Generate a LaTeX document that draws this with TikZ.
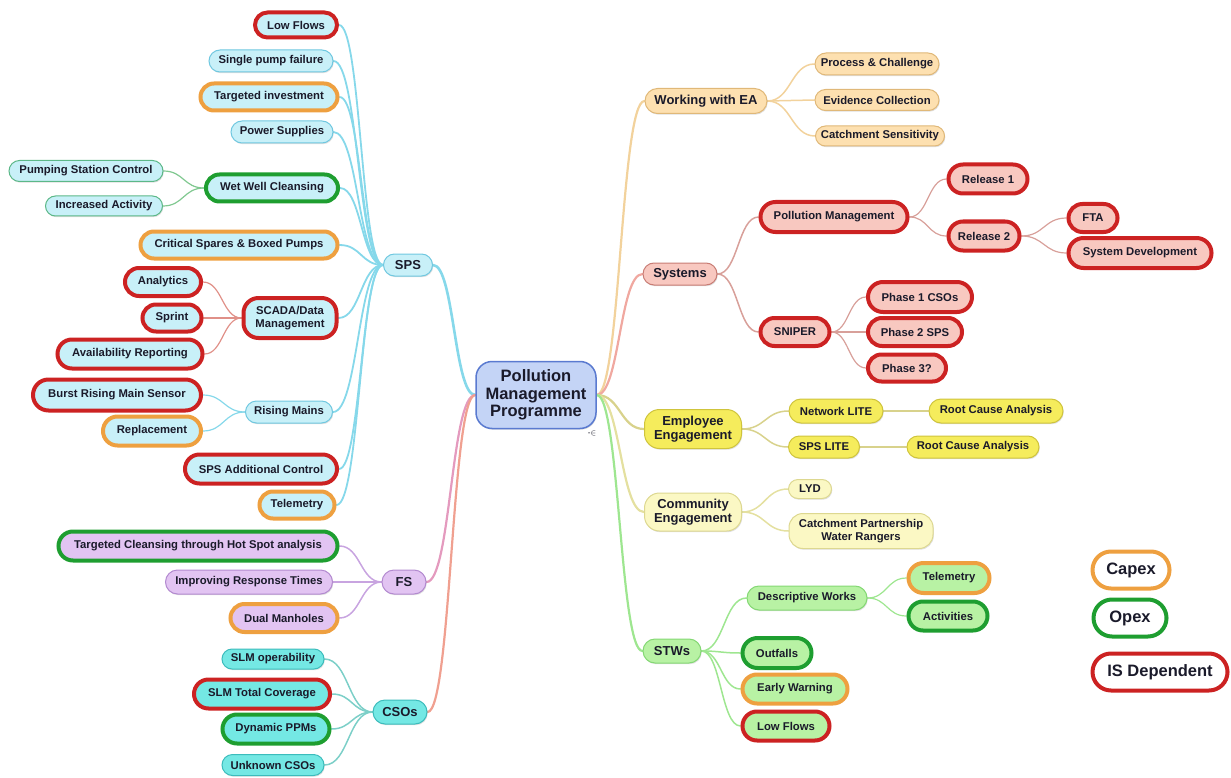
\documentclass[tikz,border=0pt]{standalone}
\usepackage{fontspec}
\setmainfont{Liberation Sans}
\usetikzlibrary{calc,shadows,backgrounds,shapes.misc}
\definecolor{txt}{HTML}{1A1A2A}
\definecolor{tagred}{HTML}{CC2222}
\definecolor{tagor}{HTML}{EEA040}
\definecolor{taggr}{HTML}{1E9E30}
\definecolor{rootfill}{HTML}{C4D4F6}
\definecolor{rootbd}{HTML}{5A7AD0}
\definecolor{cyfill}{HTML}{C8F0F8}
\definecolor{cybd}{HTML}{70C8E0}
\definecolor{gbd}{HTML}{5CB888}
\definecolor{pufill}{HTML}{E2C4F2}
\definecolor{pubd}{HTML}{B38AD0}
\definecolor{tqfill}{HTML}{74E8E4}
\definecolor{tqbd}{HTML}{3CBCBC}
\definecolor{orfill}{HTML}{FDE0B0}
\definecolor{orbd}{HTML}{E0B878}
\definecolor{safill}{HTML}{F8C8C0}
\definecolor{sabd}{HTML}{C87C74}
\definecolor{yefill}{HTML}{F5EC5C}
\definecolor{yebd}{HTML}{CFC43C}
\definecolor{lyfill}{HTML}{FBF8C4}
\definecolor{lybd}{HTML}{DDD890}
\definecolor{grfill}{HTML}{B8F2A4}
\definecolor{grbd}{HTML}{84D874}
\definecolor{cyE}{HTML}{86D8EA}
\definecolor{gwE}{HTML}{80C890}
\definecolor{rdE}{HTML}{E09088}
\definecolor{puE}{HTML}{C8A4E0}
\definecolor{tqE}{HTML}{7CCFC8}
\definecolor{pkE}{HTML}{E49ABE}
\definecolor{slE}{HTML}{F0A090}
\definecolor{orE}{HTML}{F2D29C}
\definecolor{syE}{HTML}{D8A09A}
\definecolor{ryE}{HTML}{F0A8A0}
\definecolor{yeE}{HTML}{D8D28C}
\definecolor{lyE}{HTML}{E4E0A0}
\definecolor{grE}{HTML}{9EE690}
\tikzset{
  nd/.style={rounded rectangle, align=center, inner sep=2pt, text=txt,
    font=\fontsize{11.3}{12.8}\selectfont\bfseries,
    drop shadow={shadow xshift=0.8pt,shadow yshift=-1.2pt,opacity=0.25}},
  box/.style={rectangle, rounded corners=#1},
  mw/.style={minimum width={#1+6pt}},
  lone/.style={font=\fontsize{13}{14}\selectfont\bfseries},
  cy/.style={nd, fill=cyfill, draw=cybd, line width=1pt},
  cyg/.style={nd, fill=cyfill, draw=gbd, line width=1pt},
  pu/.style={nd, fill=pufill, draw=pubd, line width=1pt},
  tq/.style={nd, fill=tqfill, draw=tqbd, line width=1pt},
  orn/.style={nd, fill=orfill, draw=orbd, line width=1pt},
  sa/.style={nd, fill=safill, draw=sabd, line width=1pt},
  ye/.style={nd, fill=yefill, draw=yebd, line width=1pt},
  ly/.style={nd, fill=lyfill, draw=lybd, line width=1pt},
  gr/.style={nd, fill=grfill, draw=grbd, line width=1pt},
  tR/.style={draw=tagred, line width=4pt},
  tO/.style={draw=tagor, line width=4pt},
  tG/.style={draw=taggr, line width=4pt},
  legend/.style={nd, fill=white, line width=4pt,
    font=\fontsize{16.5}{18}\selectfont\bfseries},
  ed/.style={draw=#1, line width=1.2pt, line cap=round},
  edk/.style={draw=#1, line width=2.2pt, line cap=round},
}
\newcommand\mmlink[3]{\draw[#1] let \p1=(#2), \p2=(#3),
  \n1={0.5*(\x2-\x1)}, \n2={-0.5*(\x2-\x1)} in
  (\p1) .. controls +(\n1,0pt) and +(\n2,0pt) .. (\p2);}
\begin{document}
\begin{tikzpicture}[x=1pt,y=-1pt]
\useasboundingbox (0,0) rectangle (1231,778);
% ---------- root
\node[nd, box=16pt, fill=rootfill, draw=rootbd, line width=1.5pt,
  font=\fontsize{16.5}{17.5}\selectfont\bfseries, minimum width=120pt, minimum height=67pt] (root) at (536,395)
  {Pollution\\Management\\Programme};
\node[text=txt, font=\fontsize{8}{8}\selectfont, inner sep=0pt] (icon) at (592,433) {-\(\in\)};
% ---------- SPS
\node[cy, lone, mw=47pt, minimum height=22pt] (sps) at (408,265) {SPS};
\node[cy, tR, mw=80pt, minimum height=25pt] (lf) at (296,25) {Low Flows};
\node[cy, mw=122pt, minimum height=22pt] (spf) at (271,61) {Single pump failure};
\node[cy, tO, mw=135pt, minimum height=27pt] (ti) at (269,97) {Targeted investment};
\node[cy, mw=100pt, minimum height=22pt] (ps) at (282,132) {Power Supplies};
\node[cy, tG, mw=130pt, minimum height=27pt] (wwc) at (272,188) {Wet Well Cleansing};
\node[cyg, mw=152pt, minimum height=21pt] (psc) at (86,171) {Pumping Station Control};
\node[cyg, mw=115pt, minimum height=20pt] (ia) at (104,206) {Increased Activity};
\node[cy, tO, mw=195pt, minimum height=27pt] (csb) at (239,245) {Critical Spares \& Boxed Pumps};
\node[cy, tR, box=15pt, minimum width=93pt, minimum height=40pt] (scada) at (290,318) {SCADA/Data\\Management};
\node[cy, tR, mw=74pt, minimum height=28pt] (ana) at (163,282) {Analytics};
\node[cy, tR, mw=57pt, minimum height=27pt] (spr) at (172,318) {Sprint};
\node[cy, tR, mw=143pt, minimum height=29pt] (avr) at (130,354) {Availability Reporting};
\node[cy, mw=85pt, minimum height=22pt] (rm) at (289,412) {Rising Mains};
\node[cy, tR, mw=166pt, minimum height=31pt] (brm) at (117,395) {Burst Rising Main Sensor};
\node[cy, tO, mw=96pt, minimum height=29pt] (rep) at (152,431) {Replacement};
\node[cy, tR, mw=150pt, minimum height=29pt] (sac) at (261,469) {SPS Additional Control};
\node[cy, tO, mw=73pt, minimum height=27pt] (tel) at (297,505) {Telemetry};
% ---------- FS
\node[pu, lone, mw=42pt, minimum height=24pt] (fs) at (404,582) {FS};
\node[pu, tG, mw=277pt, minimum height=29pt] (tch) at (198,546) {Targeted Cleansing through Hot Spot analysis};
\node[pu, mw=165pt, minimum height=24pt] (irt) at (249,582) {Improving Response Times};
\node[pu, tO, mw=105pt, minimum height=28pt] (dm) at (284,618) {Dual Manholes};
% ---------- CSOs
\node[tq, lone, mw=52pt, minimum height=24pt] (csos) at (400,712) {CSOs};
\node[tq, mw=100pt, minimum height=20pt] (slmo) at (273,659) {SLM operability};
\node[tq, tR, mw=134pt, minimum height=29pt] (slmt) at (262,694) {SLM Total Coverage};
\node[tq, tG, mw=105pt, minimum height=29pt] (dpp) at (276,729) {Dynamic PPMs};
\node[tq, mw=100pt, minimum height=21pt] (ucs) at (273,765) {Unknown CSOs};
% ---------- Working with EA
\node[orn, lone, mw=120pt, minimum height=25pt] (wea) at (706,101) {Working with EA};
\node[orn, mw=122pt, minimum height=22pt] (pc) at (877,64) {Process \& Challenge};
\node[orn, mw=122pt, minimum height=21pt] (ec) at (877,100) {Evidence Collection};
\node[orn, mw=127pt, minimum height=20pt] (cs) at (880,136) {Catchment Sensitivity};
% ---------- Systems
\node[sa, lone, mw=72pt, minimum height=22pt] (sys) at (680,274) {Systems};
\node[sa, tR, mw=145pt, minimum height=30pt] (pm) at (834,217) {Pollution Management};
\node[sa, tR, mw=77pt, minimum height=29pt] (r1) at (988,179) {Release 1};
\node[sa, tR, mw=69pt, minimum height=29pt] (r2) at (984,236) {Release 2};
\node[sa, tR, mw=47pt, minimum height=28pt] (fta) at (1093,218) {FTA};
\node[sa, tR, mw=141pt, minimum height=30pt] (sd) at (1140,253) {System Development};
\node[sa, tR, mw=67pt, minimum height=28pt] (sni) at (795,332) {SNIPER};
\node[sa, tR, mw=102pt, minimum height=30pt] (p1) at (920,297) {Phase 1 CSOs};
\node[sa, tR, mw=92pt, minimum height=28pt] (p2) at (915,332) {Phase 2 SPS};
\node[sa, tR, mw=76pt, minimum height=27pt] (p3) at (907,368) {Phase 3?};
% ---------- Employee Engagement
\node[ye, lone, box=15pt, minimum width=97pt, minimum height=39pt] (emp) at (693,429) {Employee\\Engagement};
\node[ye, mw=92pt, minimum height=24pt] (nl) at (836,411) {Network LITE};
\node[ye, mw=132pt, minimum height=24pt] (rca1) at (996,411) {Root Cause Analysis};
\node[ye, mw=69pt, minimum height=22pt] (sl) at (824,447) {SPS LITE};
\node[ye, mw=130pt, minimum height=22pt] (rca2) at (973,447) {Root Cause Analysis};
% ---------- Community Engagement
\node[ly, lone, box=15pt, minimum width=97pt, minimum height=38pt] (com) at (693,512) {Community\\Engagement};
\node[ly, mw=41pt, minimum height=19pt] (lyd) at (810,489) {LYD};
\node[ly, box=14pt, minimum width=144pt, minimum height=35pt] (cpw) at (861,531) {Catchment Partnership\\Water Rangers};
% ---------- STWs
\node[gr, lone, mw=56pt, minimum height=24pt] (stw) at (672,651) {STWs};
\node[gr, mw=118pt, minimum height=24pt] (dw) at (807,598) {Descriptive Works};
\node[gr, tO, mw=79pt, minimum height=30pt] (tel2) at (949,578) {Telemetry};
\node[gr, tG, mw=77pt, minimum height=29pt] (act) at (948,616) {Activities};
\node[gr, tG, mw=67pt, minimum height=30pt] (out) at (777,653) {Outfalls};
\node[gr, tO, mw=103pt, minimum height=29pt] (ew) at (795,689) {Early Warning};
\node[gr, tR, mw=85pt, minimum height=29pt] (lf2) at (786,726) {Low Flows};
% ---------- legend
\node[legend, draw=tagor, mw=75pt, minimum height=37pt] (capex) at (1131,570) {Capex};
\node[legend, draw=taggr, mw=71pt, minimum height=37pt] (opex) at (1130,618) {Opex};
\node[legend, draw=tagred, mw=133pt, minimum height=37pt] (isd) at (1160,672) {IS Dependent};
% ---------- connectors
\begin{scope}[on background layer]
\mmlink{edk=cyE, line width=2.6pt}{root.west}{sps.east}
\mmlink{edk=pkE}{root.west}{fs.east}
\mmlink{edk=slE}{root.west}{csos.east}
\mmlink{edk=orE}{root.east}{wea.west}
\mmlink{edk=ryE}{root.east}{sys.west}
\mmlink{edk=yeE}{root.east}{emp.west}
\mmlink{edk=lyE}{root.east}{com.west}
\mmlink{edk=grE}{root.east}{stw.west}
\foreach \c in {lf,spf,ti,ps,wwc,csb,scada,rm,sac,tel}
  {\mmlink{edk=cyE, line width=1.8pt}{sps.west}{\c.east}}
\foreach \c in {psc,ia} {\mmlink{ed=gwE}{wwc.west}{\c.east}}
\foreach \c in {ana,spr,avr} {\mmlink{ed=rdE}{scada.west}{\c.east}}
\foreach \c in {brm,rep} {\mmlink{ed=cyE}{rm.west}{\c.east}}
\foreach \c in {tch,irt,dm} {\mmlink{ed=puE, line width=1.5pt}{fs.west}{\c.east}}
\foreach \c in {slmo,slmt,dpp,ucs} {\mmlink{ed=tqE, line width=1.5pt}{csos.west}{\c.east}}
\foreach \c in {pc,ec,cs} {\mmlink{ed=orE, line width=1.5pt}{wea.east}{\c.west}}
\foreach \c in {pm,sni} {\mmlink{ed=syE, line width=1.5pt}{sys.east}{\c.west}}
\foreach \c in {r1,r2} {\mmlink{ed=syE}{pm.east}{\c.west}}
\foreach \c in {fta,sd} {\mmlink{ed=syE}{r2.east}{\c.west}}
\foreach \c in {p1,p2,p3} {\mmlink{ed=syE}{sni.east}{\c.west}}
\foreach \c in {nl,sl} {\mmlink{ed=yeE, line width=1.5pt}{emp.east}{\c.west}}
\mmlink{ed=yeE}{nl.east}{rca1.west}
\mmlink{ed=yeE}{sl.east}{rca2.west}
\foreach \c in {lyd,cpw} {\mmlink{ed=lyE, line width=1.5pt}{com.east}{\c.west}}
\foreach \c in {dw,out,ew,lf2} {\mmlink{ed=grE, line width=1.5pt}{stw.east}{\c.west}}
\foreach \c in {tel2,act} {\mmlink{ed=grE}{dw.east}{\c.west}}
\end{scope}
\end{tikzpicture}
\end{document}
